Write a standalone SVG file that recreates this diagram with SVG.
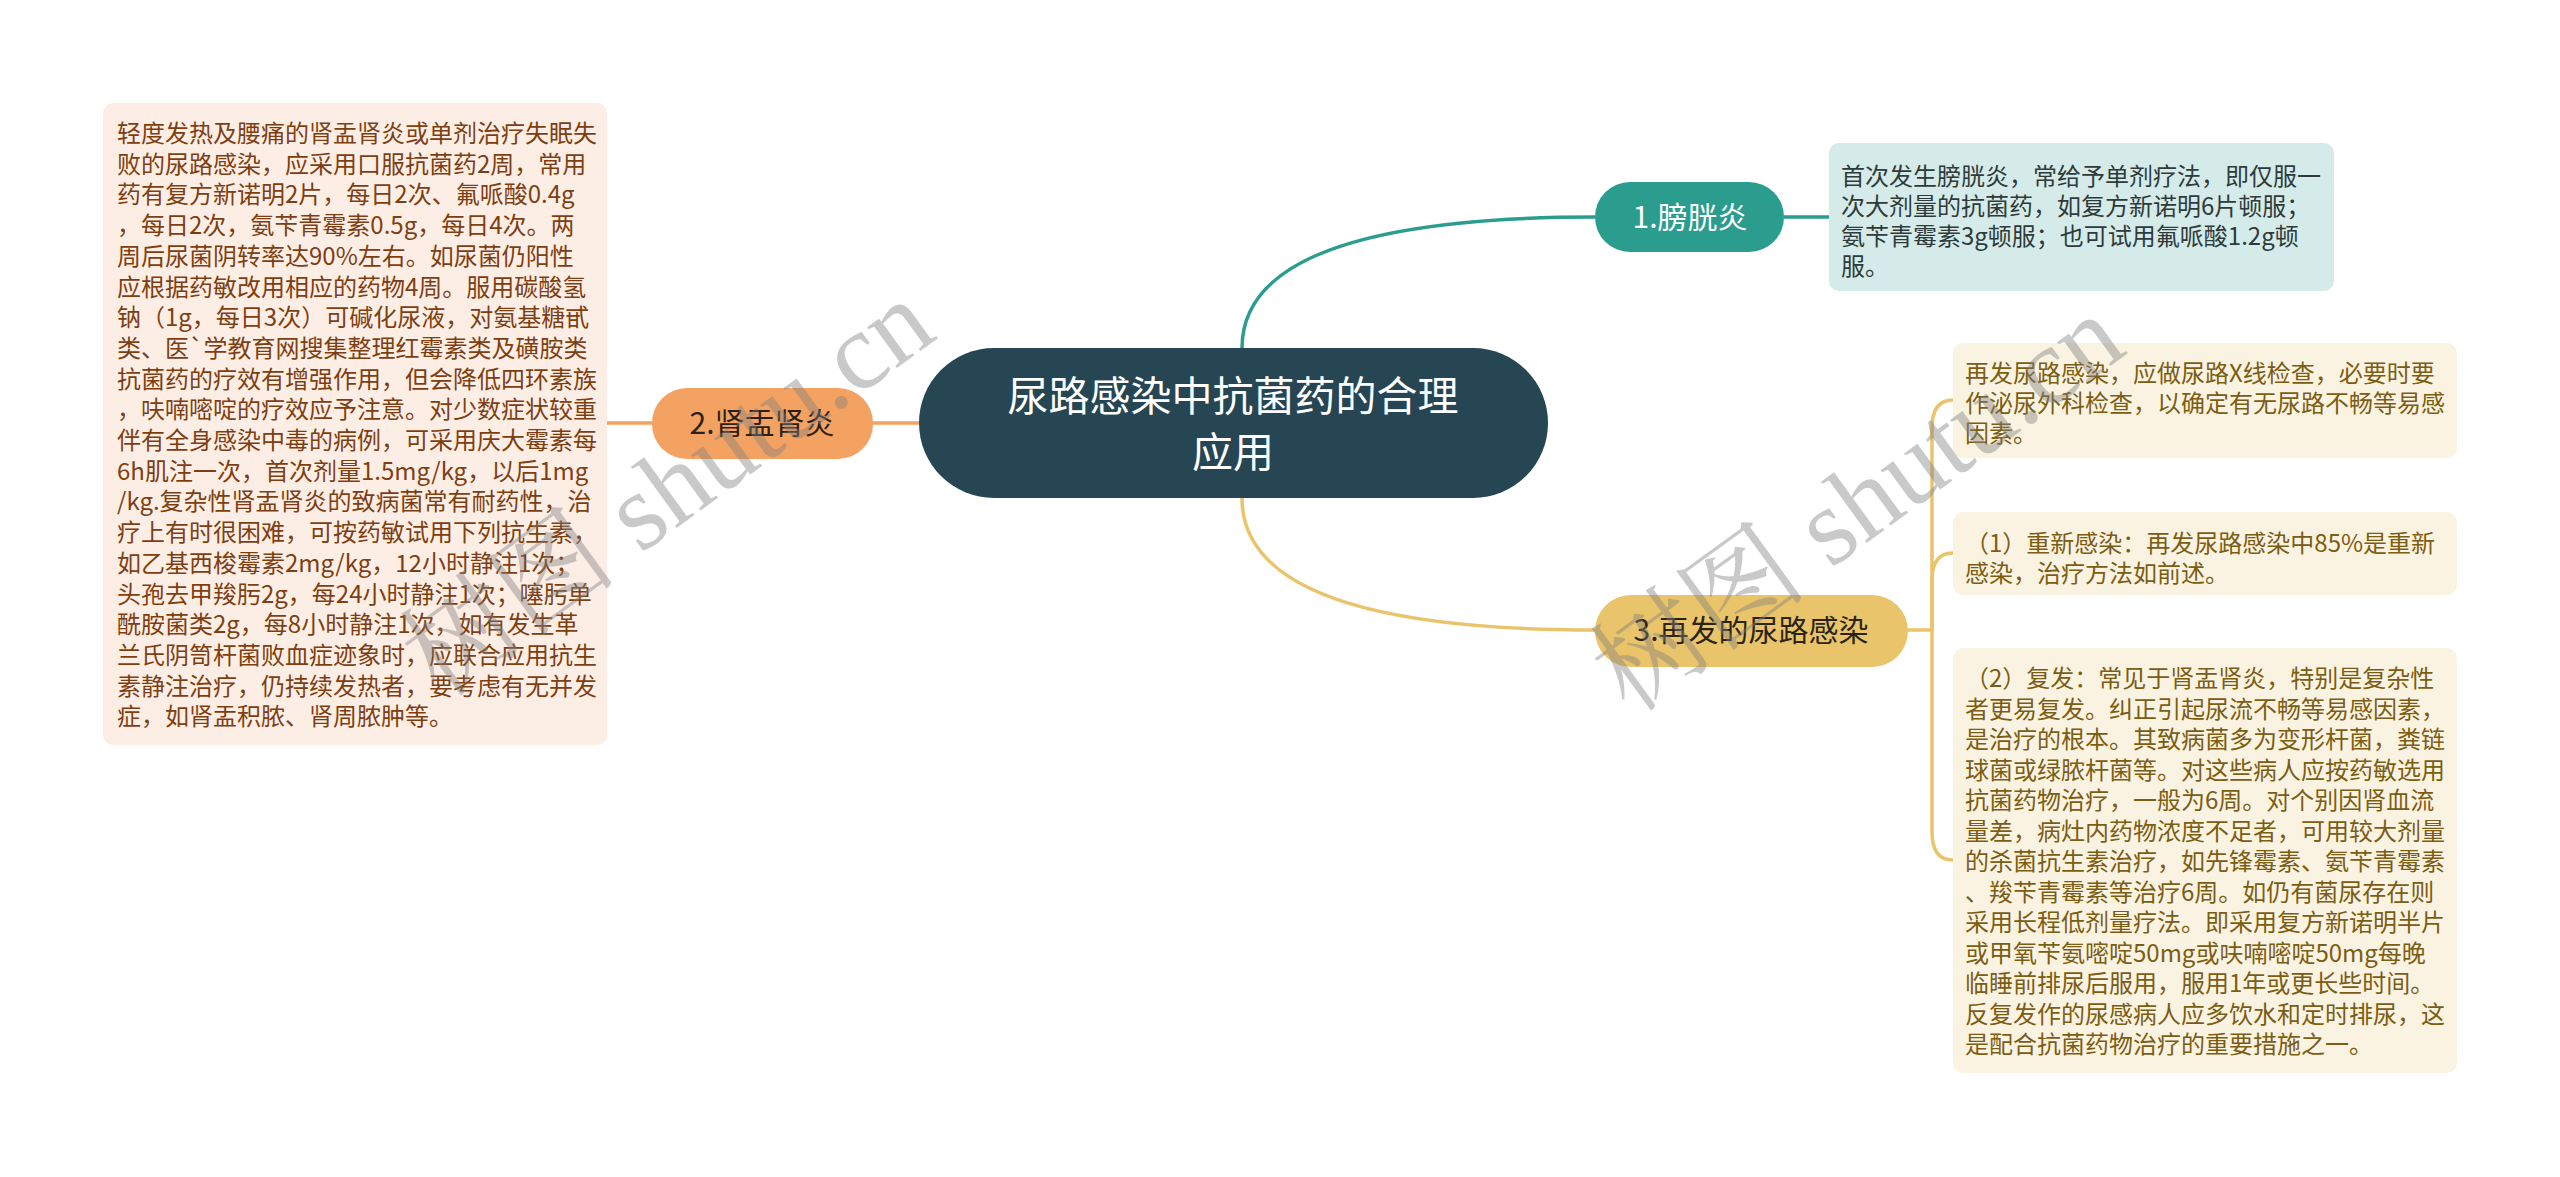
<svg xmlns="http://www.w3.org/2000/svg" width="2560" height="1177" viewBox="0 0 2560 1177">
<style>
text{font-family:"Noto Sans CJK SC","Liberation Sans",sans-serif}
.t24{font-size:24px}
.lb{fill:#7d3f12}
.rb{fill:#7b5d13}
.tb{fill:#2e3b3a}
.node{font-size:30px;text-anchor:middle}
.wm{font-family:"Liberation Serif","Noto Serif CJK SC","Noto Sans CJK SC",serif;font-size:110px;fill:#808080;opacity:0.42}
.ln{fill:none;stroke-width:3.5}
</style>
<rect width="2560" height="1177" fill="#ffffff"/>
<g id="connectors">
<path class="ln" stroke="#F4A261" d="M607,423 H919"/>
<path class="ln" stroke="#2A9D8F" d="M1242,348 Q1242,217 1595,217"/>
<path class="ln" stroke="#2A9D8F" d="M1784,217 H1829"/>
<path class="ln" stroke="#E9C46A" d="M1242,498 Q1242,630 1595,630"/>
<path class="ln" stroke="#E9C46A" d="M1908,630 H1932"/>
<path class="ln" stroke="#E9C46A" d="M1932,630 V428 Q1932,400 1953,400"/>
<path class="ln" stroke="#E9C46A" d="M1932,630 V580 Q1932,553 1953,553"/>
<path class="ln" stroke="#E9C46A" d="M1932,630 V832 Q1932,860 1953,860"/>
</g>
<g id="center">
<rect x="919" y="348" width="629" height="150" rx="75" fill="#264653"/>
<text x="1233" y="411" font-size="41" fill="#ffffff" text-anchor="middle">尿路感染中抗菌药的合理</text>
<text x="1233" y="467" font-size="41" fill="#ffffff" text-anchor="middle">应用</text>
</g>
<g id="node1">
<rect x="1595" y="182" width="189" height="70" rx="35" fill="#2A9D8F"/>
<text class="node" x="1690" y="228" fill="#ffffff">1.膀胱炎</text>
</g>
<g id="node1-detail">
<rect x="1829" y="143" width="505" height="148" rx="10" fill="#d5ebe9"/>
<text class="t24 tb" x="1841" y="185">首次发生膀胱炎，常给予单剂疗法，即仅服一</text>
<text class="t24 tb" x="1841" y="215">次大剂量的抗菌药，如复方新诺明6片顿服；</text>
<text class="t24 tb" x="1841" y="245">氨苄青霉素3g顿服；也可试用氟哌酸1.2g顿</text>
<text class="t24 tb" x="1841" y="275">服。</text>
</g>
<g id="node2">
<rect x="652" y="388" width="221" height="71" rx="35" fill="#F4A261"/>
<text class="node" x="762" y="434" fill="#2b2118">2.肾盂肾炎</text>
</g>
<g id="node2-detail">
<rect x="103" y="103" width="504" height="642" rx="10" fill="#fdeee5"/>
<text class="t24 lb" x="117" y="142">轻度发热及腰痛的肾盂肾炎或单剂治疗失眠失</text>
<text class="t24 lb" x="117" y="172.7">败的尿路感染，应采用口服抗菌药2周，常用</text>
<text class="t24 lb" x="117" y="203.4">药有复方新诺明2片，每日2次、氟哌酸0.4g</text>
<text class="t24 lb" x="117" y="234.1">，每日2次，氨苄青霉素0.5g，每日4次。两</text>
<text class="t24 lb" x="117" y="264.8">周后尿菌阴转率达90%左右。如尿菌仍阳性</text>
<text class="t24 lb" x="117" y="295.5">应根据药敏改用相应的药物4周。服用碳酸氢</text>
<text class="t24 lb" x="117" y="326.2">钠（1g，每日3次）可碱化尿液，对氨基糖甙</text>
<text class="t24 lb" x="117" y="356.9">类、医`学教育网搜集整理红霉素类及磺胺类</text>
<text class="t24 lb" x="117" y="387.6">抗菌药的疗效有增强作用，但会降低四环素族</text>
<text class="t24 lb" x="117" y="418.3">，呋喃嘧啶的疗效应予注意。对少数症状较重</text>
<text class="t24 lb" x="117" y="449">伴有全身感染中毒的病例，可采用庆大霉素每</text>
<text class="t24 lb" x="117" y="479.7">6h肌注一次，首次剂量1.5mg/kg，以后1mg</text>
<text class="t24 lb" x="117" y="510.4">/kg.复杂性肾盂肾炎的致病菌常有耐药性，治</text>
<text class="t24 lb" x="117" y="541.1">疗上有时很困难，可按药敏试用下列抗生素，</text>
<text class="t24 lb" x="117" y="571.8">如乙基西梭霉素2mg/kg，12小时静注1次；</text>
<text class="t24 lb" x="117" y="602.5">头孢去甲羧肟2g，每24小时静注1次；噻肟单</text>
<text class="t24 lb" x="117" y="633.2">酰胺菌类2g，每8小时静注1次，如有发生革</text>
<text class="t24 lb" x="117" y="663.9">兰氏阴笥杆菌败血症迹象时，应联合应用抗生</text>
<text class="t24 lb" x="117" y="694.6">素静注治疗，仍持续发热者，要考虑有无并发</text>
<text class="t24 lb" x="117" y="725.3">症，如肾盂积脓、肾周脓肿等。</text>
</g>
<g id="node3">
<rect x="1595" y="595" width="313" height="72" rx="36" fill="#E9C46A"/>
<text class="node" x="1751" y="641" fill="#2b2414">3.再发的尿路感染</text>
</g>
<g id="node3-detail-a">
<rect x="1953" y="343" width="504" height="115" rx="10" fill="#fbf3e1"/>
<text class="t24 rb" x="1965" y="382">再发尿路感染，应做尿路X线检查，必要时要</text>
<text class="t24 rb" x="1965" y="412">作泌尿外科检查，以确定有无尿路不畅等易感</text>
<text class="t24 rb" x="1965" y="442">因素。</text>
</g>
<g id="node3-detail-b">
<rect x="1953" y="512" width="504" height="83" rx="10" fill="#fbf3e1"/>
<text class="t24 rb" x="1965" y="552">（1）重新感染：再发尿路感染中85%是重新</text>
<text class="t24 rb" x="1965" y="582">感染，治疗方法如前述。</text>
</g>
<g id="node3-detail-c">
<rect x="1953" y="648" width="504" height="425" rx="10" fill="#fbf3e1"/>
<text class="t24 rb" x="1965" y="687">（2）复发：常见于肾盂肾炎，特别是复杂性</text>
<text class="t24 rb" x="1965" y="717.5">者更易复发。纠正引起尿流不畅等易感因素，</text>
<text class="t24 rb" x="1965" y="748">是治疗的根本。其致病菌多为变形杆菌，粪链</text>
<text class="t24 rb" x="1965" y="778.5">球菌或绿脓杆菌等。对这些病人应按药敏选用</text>
<text class="t24 rb" x="1965" y="809">抗菌药物治疗，一般为6周。对个别因肾血流</text>
<text class="t24 rb" x="1965" y="839.5">量差，病灶内药物浓度不足者，可用较大剂量</text>
<text class="t24 rb" x="1965" y="870">的杀菌抗生素治疗，如先锋霉素、氨苄青霉素</text>
<text class="t24 rb" x="1965" y="900.5">、羧苄青霉素等治疗6周。如仍有菌尿存在则</text>
<text class="t24 rb" x="1965" y="931">采用长程低剂量疗法。即采用复方新诺明半片</text>
<text class="t24 rb" x="1965" y="961.5">或甲氧苄氨嘧啶50mg或呋喃嘧啶50mg每晚</text>
<text class="t24 rb" x="1965" y="992">临睡前排尿后服用，服用1年或更长些时间。</text>
<text class="t24 rb" x="1965" y="1022.5">反复发作的尿感病人应多饮水和定时排尿，这</text>
<text class="t24 rb" x="1965" y="1053">是配合抗菌药物治疗的重要措施之一。</text>
</g>
<g id="watermark">
<text class="wm" transform="translate(440,700) rotate(-36)">树图 shutu.cn</text>
<text class="wm" transform="translate(1630,715) rotate(-36)">树图 shutu.cn</text>
</g>
</svg>
